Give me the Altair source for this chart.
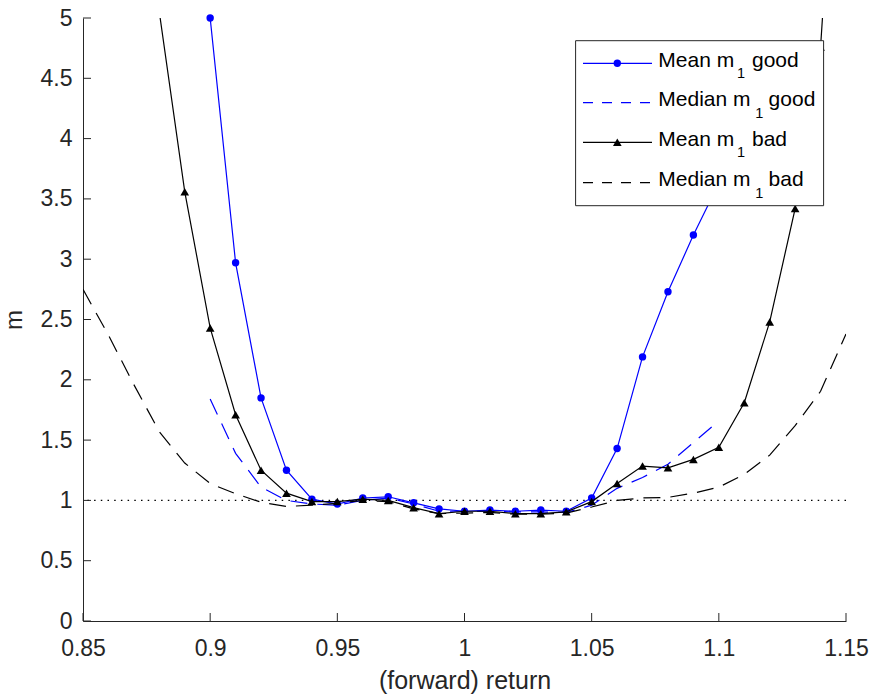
import altair as alt
import pandas as pd

# ---------------------------------------------------------------- data
# forward return grid for each series
r_mean_good = [0.90, 0.91, 0.92, 0.93, 0.94, 0.95, 0.96, 0.97, 0.98, 0.99, 1.00,
               1.01, 1.02, 1.03, 1.04, 1.05, 1.06, 1.07, 1.08, 1.09, 1.10]
m_mean_good = [5.00, 2.97, 1.85, 1.25, 1.01, 0.97, 1.02, 1.03, 0.98, 0.93, 0.91,
               0.92, 0.91, 0.92, 0.91, 1.02, 1.43, 2.19, 2.73, 3.20, 3.63]

r_median_good = r_mean_good
m_median_good = [1.84, 1.39, 1.11, 1.00, 0.97, 0.96, 1.00, 1.02, 0.97, 0.91, 0.91,
                 0.91, 0.905, 0.905, 0.90, 0.96, 1.10, 1.19, 1.30, 1.48, 1.66]

r_mean_bad = [0.88, 0.89, 0.90, 0.91, 0.92, 0.93, 0.94, 0.95, 0.96, 0.97, 0.98,
              0.99, 1.00, 1.01, 1.02, 1.03, 1.04, 1.05, 1.06, 1.07, 1.08, 1.09,
              1.10, 1.11, 1.12, 1.13, 1.14, 1.15]
m_mean_bad = [5.05, 3.56, 2.43, 1.71, 1.25, 1.06, 0.99, 0.99, 1.01, 1.00, 0.94,
              0.89, 0.91, 0.91, 0.89, 0.89, 0.905, 0.99, 1.14, 1.285, 1.27, 1.34,
              1.44, 1.81, 2.48, 3.42, 4.76, 8.00]

r_median_bad = [0.85, 0.86, 0.87, 0.88, 0.89, 0.90, 0.91, 0.92, 0.93, 0.94, 0.95,
                0.96, 0.97, 0.98, 0.99, 1.00, 1.01, 1.02, 1.03, 1.04, 1.05, 1.06,
                1.07, 1.08, 1.09, 1.10, 1.11, 1.12, 1.13, 1.14, 1.15]
m_median_bad = [2.75, 2.37, 1.96, 1.57, 1.31, 1.14, 1.055, 0.985, 0.95, 0.96, 0.975,
                1.00, 0.99, 0.93, 0.89, 0.895, 0.90, 0.885, 0.885, 0.895, 0.945, 1.00,
                1.02, 1.025, 1.06, 1.11, 1.215, 1.375, 1.62, 1.905, 2.38]

x_ticks = [0.85, 0.9, 0.95, 1.0, 1.05, 1.1, 1.15]
y_ticks = [0, 0.5, 1, 1.5, 2, 2.5, 3, 3.5, 4, 4.5, 5]
reference_level = [1]

legend_entries = [
    ("Mean m", "1", "good"),
    ("Median m", "1", "good"),
    ("Mean m", "1", "bad"),
    ("Median m", "1", "bad"),
]

# ---------------------------------------------------------------- styling
W, H = 763, 603
FONT = "Liberation Sans"
AX = "#262626"
BLUE = "#0000ff"
BLACK = "#000000"
DASH = [17, 10]

xscale = alt.Scale(domain=[0.85, 1.15], nice=False, zero=False)
yscale = alt.Scale(domain=[0, 5], nice=False, zero=False)

xaxis = alt.Axis(values=x_ticks, format="~g", ticks=False, tickSize=0, grid=False,
                 domainColor=AX, domainWidth=1, labelColor=AX, labelFont=FONT,
                 labelFontSize=23, labelBaseline="alphabetic", labelPadding=34,
                 labelFlush=False, labelOverlap=False,
                 title="(forward) return", titleFont=FONT, titleFontSize=25,
                 titleFontWeight="normal", titleColor=AX, titleBaseline="alphabetic",
                 titleY=67, titleX=W / 2)
yaxis = alt.Axis(values=y_ticks, format="~g", ticks=False, tickSize=0, grid=False,
                 domainColor=AX, domainWidth=1, labelColor=AX, labelFont=FONT,
                 labelFontSize=23, labelPadding=11, labelFlush=False, labelOverlap=False,
                 title="m", titleFont=FONT, titleFontSize=24, titleFontWeight="normal",
                 titleColor=AX, titleBaseline="alphabetic", titleAngle=270,
                 titleX=-62, titleY=H / 2)

X = alt.X("r:Q", scale=xscale, axis=xaxis)
Y = alt.Y("m:Q", scale=yscale, axis=yaxis)


def frame(rs, ms):
    return pd.DataFrame({"r": rs, "m": ms})


def curve(rs, ms, color, dash=None):
    kw = dict(color=color, strokeWidth=1.2, clip=True)
    if dash:
        kw["strokeDash"] = dash
    return alt.Chart(frame(rs, ms)).mark_line(**kw).encode(x=X, y=Y)


def markers(rs, ms, color, shape, size):
    return (alt.Chart(frame(rs, ms))
            .transform_filter("datum.m <= 5")
            .mark_point(shape=shape, filled=True, size=size, color=color,
                        opacity=1, strokeWidth=0)
            .encode(x=X, y=Y))


one = pd.DataFrame({"k": [0]})

# inward-pointing tick marks
x_tick_marks = (alt.Chart(pd.DataFrame({"r": x_ticks}))
                .mark_rule(color=AX, strokeWidth=1)
                .encode(x=X, y=alt.value(H), y2=alt.value(H - 8)))
y_tick_marks = (alt.Chart(pd.DataFrame({"m": y_ticks}))
                .mark_rule(color=AX, strokeWidth=1)
                .encode(y=Y, x=alt.value(0), x2=alt.value(8)))

ref_line = (alt.Chart(pd.DataFrame({"m": reference_level}))
            .mark_rule(color=BLACK, strokeWidth=1.2, strokeDash=[1.5, 5.2])
            .encode(y=Y))

layers = [
    ref_line,
    curve(r_mean_good, m_mean_good, BLUE),
    markers(r_mean_good, m_mean_good, BLUE, "circle", 55),
    curve(r_median_good, m_median_good, BLUE, DASH),
    curve(r_mean_bad, m_mean_bad, BLACK),
    markers(r_mean_bad, m_mean_bad, BLACK, "triangle-up", 75),
    curve(r_median_bad, m_median_bad, BLACK, DASH),
    x_tick_marks,
    y_tick_marks,
]

# ---------------------------------------------------------------- legend box
LX0, LX1, LY0, LY1 = 492.6, 740.6, 22.7, 187.7
layers.append(alt.Chart(one).mark_rect(fill="white", stroke=AX, strokeWidth=1)
              .encode(x=alt.value(LX0), x2=alt.value(LX1),
                      y=alt.value(LY0), y2=alt.value(LY1)))

row_y = [45.3, 84.7, 124.3, 164.7]
row_color = [BLUE, BLUE, BLACK, BLACK]
row_dash = [None, [10, 9], None, [10, 9]]
row_shape = ["circle", None, "triangle-up", None]
sub_x = [654.0, 672.3, 654.0, 672.3]
tail_x = [669.0, 685.6, 669.0, 685.6]

for (head, sub, tail), yy, col, dash, shp, sx, tx in zip(
        legend_entries, row_y, row_color, row_dash, row_shape, sub_x, tail_x):
    kw = dict(color=col, strokeWidth=1.2)
    if dash:
        kw["strokeDash"] = dash
    layers.append(alt.Chart(one).mark_rule(**kw)
                  .encode(x=alt.value(500), x2=alt.value(569), y=alt.value(yy)))
    if shp:
        layers.append(alt.Chart(one).mark_point(shape=shp, filled=True, opacity=1,
                                                 strokeWidth=0, color=col,
                                                 size=55 if shp == "circle" else 75)
                      .encode(x=alt.value(534.3), y=alt.value(yy)))
    txt = dict(font=FONT, fill=BLACK, align="left", baseline="alphabetic")
    layers.append(alt.Chart(one).mark_text(fontSize=21, **txt)
                  .encode(x=alt.value(575.3), y=alt.value(yy + 3.4), text=alt.value(head)))
    layers.append(alt.Chart(one).mark_text(fontSize=14.5, **txt)
                  .encode(x=alt.value(sx), y=alt.value(yy + 15), text=alt.value(sub)))
    layers.append(alt.Chart(one).mark_text(fontSize=21, **txt)
                  .encode(x=alt.value(tx), y=alt.value(yy + 3.4), text=alt.value(tail)))

chart = (alt.layer(*layers)
         .properties(width=W, height=H,
                     autosize=alt.AutoSizeParams(type="none"),
                     padding={"left": 83, "top": 18, "right": 25, "bottom": 76},
                     background="white")
         .configure_view(stroke=None))

chart.save("out.html", embed_options={"renderer": "svg", "actions": False})
